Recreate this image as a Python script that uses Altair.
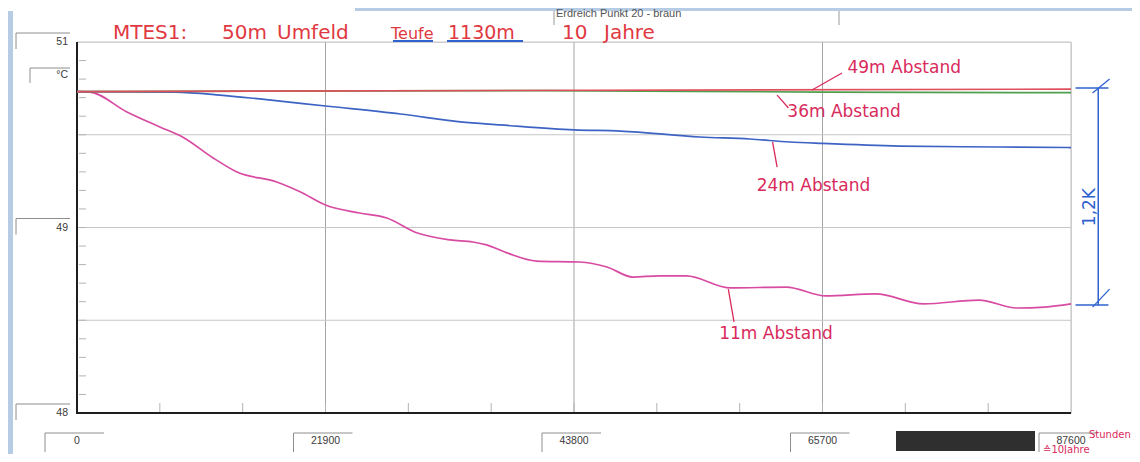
import altair as alt
import pandas as pd

# ---------------- data (hours, °C) ----------------
red_h = [0, 87600]
red_t = [49.733, 49.746]

green_h = [0, 40000, 65700, 87600]
green_t = [49.733, 49.738, 49.730, 49.727]

blue_h = [0, 8640, 12600, 16100, 21900, 28500, 33800, 37300, 43800, 47900,
          54900, 59300, 62800, 65700, 72500, 81300, 87600]
blue_t = [49.733, 49.730, 49.714, 49.693, 49.655, 49.612, 49.569, 49.553, 49.526, 49.520,
          49.488, 49.477, 49.461, 49.453, 49.439, 49.434, 49.431]

pink_h = [0, 1150, 4400, 7300, 9300, 12000, 14100, 17600, 19700, 21900,
          24900, 27300, 30000, 32900, 34900, 36100, 37900, 40500, 44300, 46700,
          49000, 51300, 53700, 57600, 62500, 66000, 70400, 74600, 79500, 82800,
          85300, 87600]
pink_t = [49.733, 49.730, 49.623, 49.542, 49.488, 49.375, 49.299, 49.245, 49.191, 49.121,
          49.078, 49.051, 48.970, 48.933, 48.922, 48.906, 48.863, 48.819, 48.814, 48.787,
          48.733, 48.739, 48.739, 48.674, 48.679, 48.631, 48.642, 48.588, 48.609, 48.566,
          48.571, 48.588]

x_ticks = [0, 21900, 43800, 65700, 87600]
x_tick_labels = ["0", "21900", "43800", "65700", "87600"]
y_ticks = [48, 49, 50]
y_tick_labels = ["48", "49", "51"]
unit_label = "°C"
unit_pos = 49.822

# handwritten notes attached to the curves
note_txt = ["49m Abstand", "36m Abstand", "24m Abstand", "11m Abstand"]
note_h = [67900, 62600, 59900, 56600]
note_t = [49.860, 49.623, 49.224, 48.426]
lead_h = [67420, 61700, 61300, 57400]
lead_t = [49.833, 49.714, 49.461, 48.668]
lead_h2 = [64780, 62700, 61700, 57900]
lead_t2 = [49.741, 49.644, 49.326, 48.491]

# dimension "1,2K" (from the 49m level down to the 11m end value)
dim_h = 90000
dim_top = 49.752
dim_bot = 48.582
dim_label = "1,2K"

title_parts = ["MTES1:", "50m", "Umfeld", "Teufe", "1130m", "10", "Jahre"]
header_text = "Erdreich Punkt 20 - braun"
unit_note_1 = "Stunden"
unit_note_2 = "≙10Jahre"

# ---------------- layout ----------------
W, H = 994, 371
XS = alt.Scale(domain=[0, 87600], nice=False, zero=False)
YS = alt.Scale(domain=[48, 50], nice=False, zero=False)


def X(f):
    return alt.X(f"{f}:Q", scale=XS, axis=None)


def Y(f):
    return alt.Y(f"{f}:Q", scale=YS, axis=None)


one = pd.DataFrame({"k": [0]})
layers = []
BG = "#b5cce4"
HAND = "#d92a5c"
TITLE = "#e0393f"
PEN_BLUE = "#2f62cf"
HFONT = "DejaVu Sans"

# scanner background strips
layers.append(alt.Chart(one).mark_rect(color=BG).encode(
    x=alt.value(-69), x2=alt.value(-64), y=alt.value(-31), y2=alt.value(412)))
layers.append(alt.Chart(one).mark_rect(color=BG).encode(
    x=alt.value(278), x2=alt.value(1055), y=alt.value(-34), y2=alt.value(-31)))

# grid
vg = pd.DataFrame({"h": x_ticks[1:-1]})
layers.append(alt.Chart(vg).mark_rule(color="#a4a4a4", strokeWidth=1).encode(x=X("h")))
layers.append(alt.Chart(pd.DataFrame({"h": x_ticks[-1:]})).mark_rule(
    color="#bdbdbd", strokeWidth=1).encode(x=X("h")))
hg = pd.DataFrame({"t": [48.5, 49.0, 49.5, 50.0]})
layers.append(alt.Chart(hg).mark_rule(color="#c6c6c6", strokeWidth=1).encode(y=Y("t")))

# minor ticks
y_minor = [round(48 + 0.1 * i, 1) for i in range(1, 20)]
x_minor = [7300 * i for i in range(1, 12)]
layers.append(alt.Chart(pd.DataFrame({"t": y_minor})).mark_rule(color="#b3b3b3").encode(
    y=Y("t"), x=alt.value(2), x2=alt.value(9)))
layers.append(alt.Chart(pd.DataFrame({"h": x_minor})).mark_rule(color="#b3b3b3").encode(
    x=X("h"), y=alt.value(H), y2=alt.value(H - 10)))

# axis lines
layers.append(alt.Chart(one).mark_rule(color="#1e1e1e", strokeWidth=2).encode(
    x=alt.value(0), y=alt.value(0), y2=alt.value(H + 1)))
layers.append(alt.Chart(one).mark_rule(color="#1e1e1e", strokeWidth=2).encode(
    y=alt.value(H), x=alt.value(-1), x2=alt.value(W)))

# curves (drawn so that the 49m line lies on top)
for hs, ts, col in [(pink_h, pink_t, "#d84ba2"), (blue_h, blue_t, "#3d63c3"),
                    (green_h, green_t, "#4f9e4c"), (red_h, red_t, "#e0505c")]:
    df = pd.DataFrame({"h": hs, "t": ts})
    layers.append(alt.Chart(df).mark_line(color=col, strokeWidth=1.7,
                                          interpolate="monotone").encode(
        x=X("h"), y=Y("t")))

# x tick labels in sunken boxes
xl = pd.DataFrame({"h": x_ticks, "lab": x_tick_labels})
layers.append(alt.Chart(xl).mark_text(font="Liberation Sans", fontSize=10.5, color="#3a3a3a",
                                      align="center", baseline="middle").encode(
    x=X("h"), y=alt.value(399), text="lab:N"))
layers.append(alt.Chart(xl).mark_rule(color="#8e8e8e", xOffset=-32, x2Offset=27).encode(
    x=X("h"), x2=alt.X2("h"), y=alt.value(391)))
layers.append(alt.Chart(xl).mark_rule(color="#8e8e8e", xOffset=-32).encode(
    x=X("h"), y=alt.value(391), y2=alt.value(410)))
layers.append(alt.Chart(one).mark_rect(color="#2f2f2f").encode(
    x=alt.value(819), x2=alt.value(958), y=alt.value(389), y2=alt.value(409)))

# y tick labels in sunken boxes
yl = pd.DataFrame({"t": y_ticks + [unit_pos], "lab": y_tick_labels + [unit_label]})
layers.append(alt.Chart(yl).mark_text(font="Liberation Sans", fontSize=10.5, color="#3a3a3a",
                                      align="right", baseline="middle").encode(
    y=Y("t"), x=alt.value(-9), text="lab:N"))
ylb = pd.DataFrame({"t": y_ticks})
layers.append(alt.Chart(ylb).mark_rule(color="#8e8e8e", yOffset=-9).encode(
    y=Y("t"), x=alt.value(-61), x2=alt.value(-7)))
layers.append(alt.Chart(ylb).mark_rule(color="#8e8e8e", yOffset=-9, y2Offset=7).encode(
    y=Y("t"), y2=alt.Y2("t"), x=alt.value(-61)))
ulb = pd.DataFrame({"t": [unit_pos]})
layers.append(alt.Chart(ulb).mark_rule(color="#8e8e8e", yOffset=-7).encode(
    y=Y("t"), x=alt.value(-47), x2=alt.value(-7)))
layers.append(alt.Chart(ulb).mark_rule(color="#8e8e8e", yOffset=-7, y2Offset=8).encode(
    y=Y("t"), y2=alt.Y2("t"), x=alt.value(-47)))

# header of the printout
layers.append(alt.Chart(pd.DataFrame({"s": [header_text]})).mark_text(
    font="Liberation Sans", fontSize=11, color="#555555", align="left", baseline="middle").encode(
    x=alt.value(479), y=alt.value(-28), text="s:N"))
for xv in [477, 762]:
    layers.append(alt.Chart(one).mark_rule(color="#9a9a9a").encode(
        x=alt.value(xv), y=alt.value(-31), y2=alt.value(-17)))

# handwritten title
title_x = [36, 145, 200, 314, 371, 485, 527]
title_fs = [20, 20, 20, 16, 19, 20, 20]
tdf = pd.DataFrame({"s": title_parts, "px": title_x, "fs": title_fs})
layers.append(alt.Chart(tdf).mark_text(font=HFONT, color=TITLE, align="left",
                                       baseline="alphabetic").encode(
    x=alt.X("px:Q", scale=None), y=alt.value(-3), text="s:N",
    size=alt.Size("fs:Q", scale=None, legend=None)))
for a, b in [(316, 356), (370, 446)]:
    layers.append(alt.Chart(one).mark_rule(color=PEN_BLUE, strokeWidth=2).encode(
        x=alt.value(a), x2=alt.value(b), y=alt.value(-1)))

# handwritten curve notes
ndf = pd.DataFrame({"s": note_txt, "h": note_h, "t": note_t})
layers.append(alt.Chart(ndf).mark_text(font=HFONT, fontSize=17, color=HAND, align="left",
                                       baseline="middle").encode(
    x=X("h"), y=Y("t"), text="s:N"))
ldf = pd.DataFrame({"h": lead_h, "t": lead_t, "h2": lead_h2, "t2": lead_t2})
layers.append(alt.Chart(ldf).mark_rule(color=HAND, strokeWidth=1.3).encode(
    x=X("h"), y=Y("t"), x2=alt.X2("h2"), y2=alt.Y2("t2")))

# dimension line 1,2K
ddf = pd.DataFrame({"h": [dim_h], "t": [dim_top], "t2": [dim_bot]})
layers.append(alt.Chart(ddf).mark_rule(color=PEN_BLUE, strokeWidth=1.5).encode(
    x=X("h"), y=Y("t"), y2=alt.Y2("t2")))
edf = pd.DataFrame({"h": [88000, 88000], "h2": [90900, 90900], "t": [dim_top, dim_bot]})
layers.append(alt.Chart(edf).mark_rule(color=PEN_BLUE, strokeWidth=1.5).encode(
    x=X("h"), x2=alt.X2("h2"), y=Y("t")))
sdf = pd.DataFrame({"h": [89500, 89500], "h2": [91000, 91000],
                    "t": [dim_top - 0.027, dim_bot - 0.011], "t2": [dim_top + 0.049, dim_bot + 0.086]})
layers.append(alt.Chart(sdf).mark_rule(color=PEN_BLUE, strokeWidth=1.3).encode(
    x=X("h"), x2=alt.X2("h2"), y=Y("t"), y2=alt.Y2("t2")))
layers.append(alt.Chart(pd.DataFrame({"s": [dim_label], "h": [89300], "t": [49.11]})).mark_text(
    font=HFONT, fontSize=17, color=PEN_BLUE, angle=270, align="center", baseline="middle").encode(
    x=X("h"), y=Y("t"), text="s:N"))

# unit note at the x axis end
udf = pd.DataFrame({"s": [unit_note_1, unit_note_2], "px": [1012, 966], "py": [396, 411]})
layers.append(alt.Chart(udf).mark_text(font=HFONT, fontSize=10, color=HAND, align="left",
                                       baseline="alphabetic").encode(
    x=alt.X("px:Q", scale=None), y=alt.Y("py:Q", scale=None), text="s:N"))

chart = alt.layer(*layers).properties(
    width=W, height=H,
    padding={"left": 69, "top": 34, "right": 61, "bottom": 41},
    autosize=alt.AutoSizeParams(type="none"),
).configure_view(stroke=None).configure(background="white")

chart.save("out.html", embed_options={"renderer": "svg", "actions": False})
